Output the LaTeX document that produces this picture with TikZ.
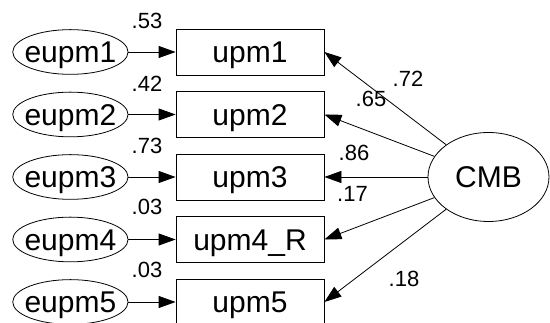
\documentclass[tikz,border=0pt]{standalone}
\usepackage{fontspec}
\setmainfont{Liberation Sans}
\usetikzlibrary{shapes.geometric,arrows.meta}
\begin{document}
\begin{tikzpicture}[x=1pt,y=1pt,
  bigtext/.style={font=\fontsize{30}{36}\selectfont, text height=21.5pt, text depth=0pt, inner sep=0pt},
  smalltext/.style={font=\fontsize{22}{26}\selectfont, text height=15.7pt, text depth=0pt, inner sep=0pt},
  obsbox/.style={draw, line width=0.8pt, rectangle, minimum width=148pt, minimum height=46pt, inner sep=0pt, bigtext},
  errell/.style={draw, line width=0.8pt, ellipse, minimum width=115.3pt, minimum height=44.7pt, inner sep=0pt},
  latell/.style={draw, line width=0.8pt, ellipse, minimum width=121pt, minimum height=89pt, inner sep=0pt, bigtext},
  arr/.style={line width=0.8pt, -{Triangle[length=17pt,width=12pt]}}
]
\useasboundingbox (0,0) rectangle (550,323);
\clip (0,0) rectangle (550,323);

% observed boxes
\node[obsbox] (b1) at (250,271) {upm1};
\node[obsbox] (b2) at (250,208.5) {upm2};
\node[obsbox] (b3) at (250,146) {upm3};
\node[obsbox] (b4) at (250,83.5) {upm4\_R};
\node[obsbox] (b5) at (250,21) {upm5};

% error ellipses
\node[errell] (e1) at (70.4,271) {};
\node[errell] (e2) at (70.4,208.5) {};
\node[errell] (e3) at (70.4,146) {};
\node[errell] (e4) at (70.4,83.5) {};
\node[errell] (e5) at (70.4,21) {};
\node[bigtext] (te1) at (e1.center) {eupm1};
\node[bigtext] (te2) at (e2.center) {eupm2};
\node[bigtext] (te3) at (e3.center) {eupm3};
\node[bigtext] (te4) at (e4.center) {eupm4};
\node[bigtext] (te5) at (e5.center) {eupm5};

% latent
\node[latell] (cmb) at (488.5,146) {CMB};

% error arrows
\draw[arr] (e1) -- (b1);
\draw[arr] (e2) -- (b2);
\draw[arr] (e3) -- (b3);
\draw[arr] (e4) -- (b4);
\draw[arr] (e5) -- (b5);

% loadings
\draw[arr] (cmb) -- (b1.east);
\draw[arr] (cmb) -- (b2.east);
\draw[arr] (cmb) -- (b3.east);
\draw[arr] (cmb) -- (b4.east);
\draw[arr] (cmb) -- (b5.east);

% R-squared labels
\node[smalltext] (r1) at (147,302) {.53};
\node[smalltext] (r2) at (147,239) {.42};
\node[smalltext] (r3) at (147,177) {.73};
\node[smalltext] (r4) at (147,116) {.03};
\node[smalltext] (r5) at (147,53) {.03};

% loading labels
\node[smalltext] (l1) at (408,244) {.72};
\node[smalltext] (l2) at (371,224.5) {.65};
\node[smalltext] (l3) at (354,170) {.86};
\node[smalltext] (l4) at (352.5,129) {.17};
\node[smalltext] (l5) at (404,44) {.18};
\end{tikzpicture}
\end{document}
